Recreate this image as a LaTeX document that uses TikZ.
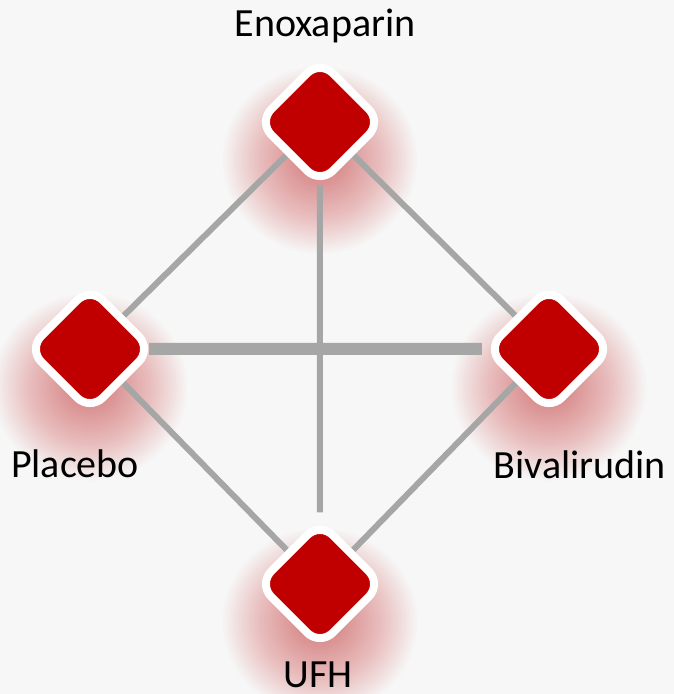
\documentclass[tikz,border=0pt]{standalone}
\usepackage{fontspec}
\setmainfont{Carlito}
\usetikzlibrary{backgrounds}

\definecolor{bgcol}{HTML}{F7F7F7}
\definecolor{nodered}{HTML}{C00000}
\definecolor{edgegray}{HTML}{A6A6A6}

\tikzset{
  drug/.style={rectangle, rotate=45, minimum size=87pt, inner sep=0pt,
    rounded corners=18pt, fill=nodered, draw=white, line width=8pt},
  edge/.style={draw=edgegray, line width=6pt},
  thickedge/.style={draw=edgegray, line width=12pt},
  lbl/.style={font=\fontsize{40}{48}\selectfont, text=black, inner sep=0pt, anchor=base},
  glowring/.style={fill=nodered, fill opacity=0.015}
}

\begin{document}
\begin{tikzpicture}[x=1pt, y=-1pt]
  \useasboundingbox (0,0) rectangle (674,694);

  % nodes
  \node[drug] (enox) at (320,122) {};
  \node[drug] (plac) at (90,349) {};
  \node[drug] (biva) at (549,349) {};
  \node[drug] (ufh)  at (320,584) {};

  \begin{pgfonlayer}{background}
    \fill[bgcol] (0,0) rectangle (674,694);

    % soft red glow under each node, built from stacked translucent ellipses
    \foreach \cx/\cy in {320/122, 90/349, 549/349, 320/584}
      \foreach \k in {1,...,32}
        \fill[glowring] (\cx,\cy+38) ellipse ({14+2.6*\k} and {12+2.55*\k});

    % connectors
    \path[edge] (enox) -- (plac);
    \path[edge] (enox) -- (biva);
    \path[edge] (plac) -- (ufh);
    \path[edge] (biva) -- (ufh);
    \path[edge, shorten <=-4pt, shorten >=4.5pt] (enox) -- (ufh);
    \path[thickedge, shorten <=-8pt] (plac) -- (biva);
  \end{pgfonlayer}

  % labels
  \node[lbl] (tenox) at (325,36) {Enoxaparin};
  \node[lbl] (tplac) at (75,477) {Placebo};
  \node[lbl] (tbiva) at (580,478) {Bivalirudin};
  \node[lbl] (tufh)  at (318,687) {UFH};
\end{tikzpicture}
\end{document}
